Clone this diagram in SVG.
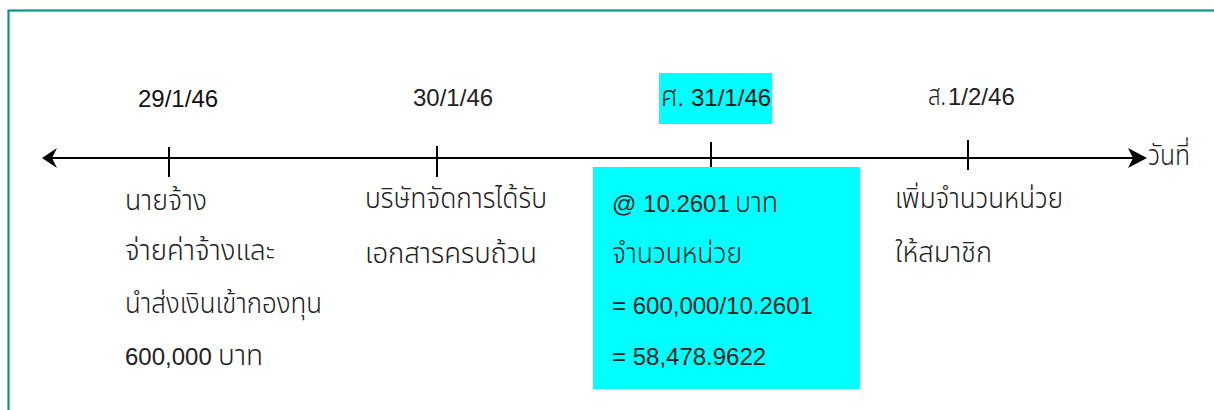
<svg xmlns="http://www.w3.org/2000/svg" width="1214" height="410" viewBox="0 0 1214 410">
<style>
.t{font-family:"Liberation Sans","Noto Sans Thai","Noto Sans",sans-serif;font-size:24px;fill:#111}
.th{font-family:"Liberation Sans","Noto Sans Thai","Noto Sans",sans-serif;font-size:24px;fill:#222}
.thai{font-family:"Noto Sans Thai","Liberation Sans","Noto Sans",sans-serif;font-size:28px;font-weight:300;fill:#222}
.tick{stroke:#000;stroke-width:2}
.hl{fill:#00ffff}
</style>
<rect x="0" y="0" width="1214" height="410" fill="#fff"/>
<rect id="frame" x="8.5" y="10.5" width="1230" height="430" fill="none" stroke="#119090" stroke-width="2.2"/>
<g id="connectors">
<line x1="50" y1="158" x2="1140" y2="158" stroke="#000" stroke-width="2"/>
<path d="M42,158 L57,148 L52,158 L57,168 Z" fill="#000"/>
<path d="M1147,158 L1128,148 L1133,158 L1128,168 Z" fill="#000"/>
<text class="thai" x="1148" y="165" font-size="24" textLength="42" lengthAdjust="spacingAndGlyphs">วันที่</text>
</g>
<g id="node-29">
<line class="tick" x1="169" y1="147" x2="169" y2="177"/>
<text class="t" x="138" y="107">29/1/46</text>
<text class="thai" x="125" y="210" textLength="82" lengthAdjust="spacingAndGlyphs">นายจ้าง</text>
<text class="thai" x="125" y="260" textLength="150" lengthAdjust="spacingAndGlyphs">จ่ายค่าจ้างและ</text>
<text class="thai" x="125" y="313" textLength="197" lengthAdjust="spacingAndGlyphs">นำส่งเงินเข้ากองทุน</text>
<text class="th" x="125" y="365">600,000 <tspan class="thai" x="218" textLength="45" lengthAdjust="spacingAndGlyphs">บาท</tspan></text>
</g>
<g id="node-30">
<line class="tick" x1="437" y1="146" x2="437" y2="177"/>
<text class="th" x="413" y="106">30/1/46</text>
<text class="thai" x="365" y="208" textLength="182" lengthAdjust="spacingAndGlyphs">บริษัทจัดการได้รับ</text>
<text class="thai" x="365" y="263" textLength="172" lengthAdjust="spacingAndGlyphs">เอกสารครบถ้วน</text>
</g>
<g id="node-31">
<rect class="hl" x="659" y="73" width="113" height="51"/>
<text class="t" x="661" y="106"><tspan class="thai" font-size="27" textLength="23" lengthAdjust="spacingAndGlyphs">ศ.</tspan><tspan x="691">31/1/46</tspan></text>
<line class="tick" x1="711" y1="142" x2="711" y2="173"/>
<rect class="hl" x="593" y="167" width="267" height="222"/>
<text class="th" x="612" y="212">@ 10.2601 <tspan class="thai" x="735" textLength="43" lengthAdjust="spacingAndGlyphs">บาท</tspan></text>
<text class="thai" x="612" y="263" textLength="130" lengthAdjust="spacingAndGlyphs">จำนวนหน่วย</text>
<text class="th" x="612" y="314">= 600,000/10.2601</text>
<text class="th" x="612" y="365">= 58,478.9622</text>
</g>
<g id="node-1-2">
<line class="tick" x1="968" y1="140" x2="968" y2="170"/>
<text class="th" x="928" y="105"><tspan class="thai" font-size="27" textLength="18" lengthAdjust="spacingAndGlyphs">ส.</tspan><tspan x="948">1/2/46</tspan></text>
<text class="thai" x="895" y="208" textLength="168" lengthAdjust="spacingAndGlyphs">เพิ่มจำนวนหน่วย</text>
<text class="thai" x="895" y="262" textLength="97" lengthAdjust="spacingAndGlyphs">ให้สมาชิก</text>
</g>
</svg>
